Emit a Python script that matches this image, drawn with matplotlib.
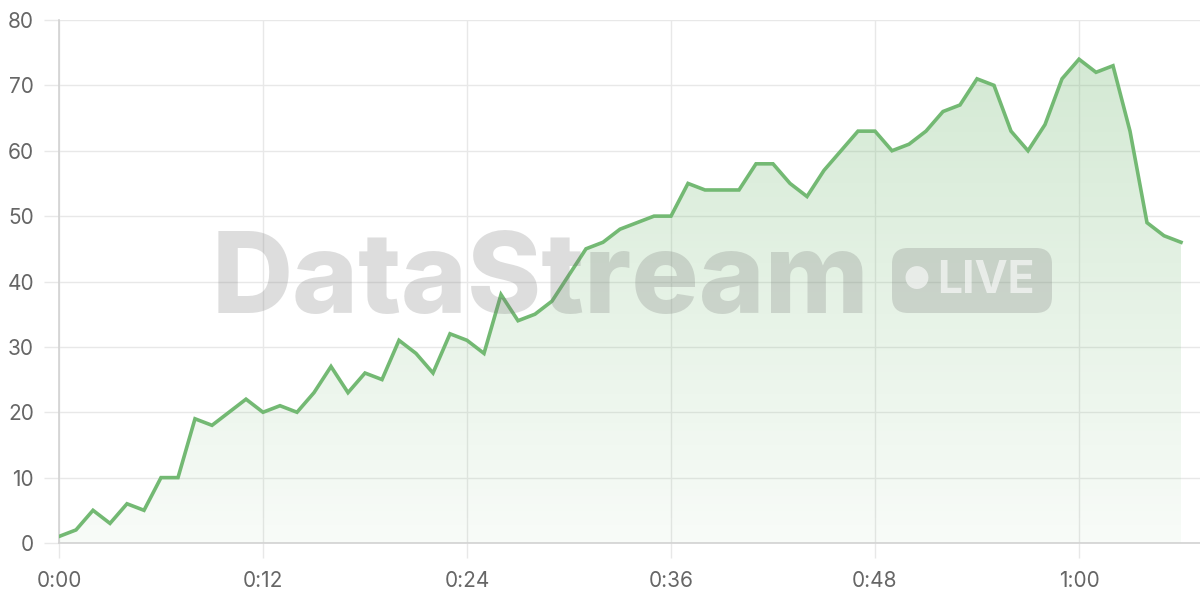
import matplotlib
matplotlib.use("Agg")
import matplotlib.pyplot as plt
from matplotlib.patches import FancyBboxPatch
from matplotlib.transforms import IdentityTransform
import numpy as np

plt.rcParams['font.family'] = ['Inter', 'DejaVu Sans']

# one reading per minute
minutes = np.arange(67)
viewers = [1, 2, 5, 3, 6, 5, 10, 10, 19, 18,
           20, 22, 20, 21, 20, 23, 27, 23, 26, 25,
           31, 29, 26, 32, 31, 29, 38, 34, 35, 37,
           41, 45, 46, 48, 49, 50, 50, 55, 54, 54,
           54, 58, 58, 55, 53, 57, 60, 63, 63, 60,
           61, 63, 66, 67, 71, 70, 63, 60, 64, 71,
           74, 72, 73, 63, 49, 47, 46]
xtick_pos = [0, 12, 24, 36, 48, 60]
xtick_labels = ["0:00", "0:12", "0:24", "0:36", "0:48", "1:00"]
ytick_pos = [0, 10, 20, 30, 40, 50, 60, 70, 80]

green = (0.45, 0.725, 0.45)
grid_c = "#e8e8e8"
axis_c = "#d2d2d2"
label_c = "#666666"

fig = plt.figure(figsize=(12, 6), dpi=100)
ax = fig.add_axes([59 / 1200, 57 / 600, 1141 / 1200, 523 / 600])
ax.set_xlim(0, 1141 / 17)
ax.set_ylim(0, 80)

# gradient fill under the line
poly = ax.fill_between(minutes, viewers, 0, color="none", lw=0)
grad = np.zeros((256, 1, 4))
grad[..., 0], grad[..., 1], grad[..., 2] = green
grad[:, 0, 3] = np.linspace(0.33, 0.05, 256)
im = ax.imshow(grad, extent=[0, minutes[-1], 0, 80], aspect="auto",
               origin="upper", zorder=1)
im.set_clip_path(poly.get_paths()[0], transform=ax.transData)

ax.plot(minutes, viewers, color=green, lw=2.6, zorder=3,
        solid_joinstyle="miter")

ax.set_xticks(xtick_pos, xtick_labels)
ax.set_yticks(ytick_pos)
ax.grid(True, color=grid_c, lw=1, zorder=0)
ax.set_axisbelow(True)
ax.tick_params(length=11, width=1, color=grid_c, labelcolor=label_c,
               labelsize=15)
ax.tick_params(axis="y", pad=7)
ax.tick_params(axis="x", pad=9)
for s in ("top", "right"):
    ax.spines[s].set_visible(False)
for s in ("left", "bottom"):
    ax.spines[s].set_color(axis_c)
    ax.spines[s].set_linewidth(1.2)

# watermark
wm_c = (0.45, 0.45, 0.45, 0.24)
txt = fig.text(212 / 1200, (600 - 313) / 600, "DataStream", fontsize=85,
               fontweight="heavy", color=wm_c, ha="left", va="baseline",
               zorder=5)
fig.canvas.draw()
bb = txt.get_window_extent()
txt.set_fontsize(85 * 658 / bb.width)

# badge drawn in pixel coordinates so the corners stay round
badge = FancyBboxPatch((892, 600 - 313), 160, 65,
                       boxstyle="round,pad=0,rounding_size=16",
                       transform=IdentityTransform(), fc=wm_c, ec="none",
                       zorder=5)
fig.patches.append(badge)
fig.text(916 / 1200, (600 - 281) / 600, "\u25CF", fontsize=22,
         color=(1, 1, 1, 0.6), ha="center", va="center", zorder=6)
fig.text(937 / 1200, (600 - 281) / 600, "LIVE", fontsize=32,
         fontweight="bold", color=(1, 1, 1, 0.6), ha="left", va="center",
         zorder=6)

fig.savefig("out.png", dpi=100)
